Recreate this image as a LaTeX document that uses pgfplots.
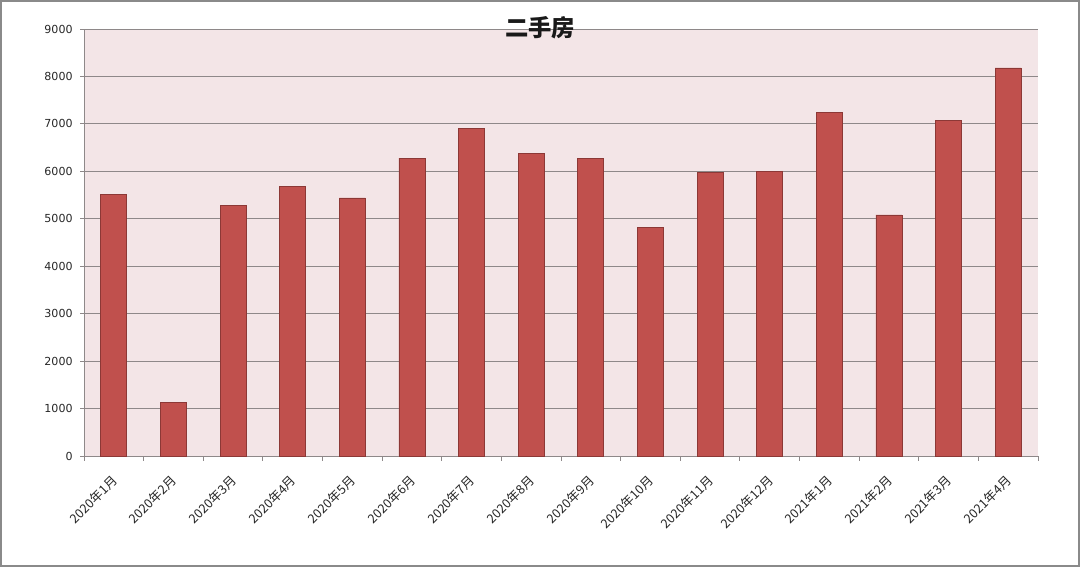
\documentclass[border=0pt]{standalone}
\usepackage{pgfplots}
\pgfplotsset{compat=1.18}
\usepackage{pgfplotstable}
\usepackage{fontspec}
\setmainfont{DejaVu Sans}
\newfontfamily\cjk{Noto Sans CJK SC}

\definecolor{barfill}{HTML}{C0504D}
\definecolor{baredge}{HTML}{8C3836}
\definecolor{plotbg}{HTML}{F3E5E7}
\definecolor{gridc}{HTML}{8E8889}
\definecolor{framec}{HTML}{8A8A8A}

% 二手房 monthly values
\pgfplotstableread{
idx value
0  5520
1  1120
2  5290
3  5690
4  5440
5  6280
6  6910
7  6370
8  6280
9  4810
10 5970
11 5990
12 7250
13 5080
14 7080
15 8180
}\datatable

\begin{document}
\begin{tikzpicture}
% 1px = 0.75pt
\useasboundingbox (0,0) rectangle (810pt,425.25pt);
\draw[framec, line width=0.9pt] (0.75pt,0.75pt) rectangle (809.25pt,424.5pt);
\begin{axis}[
    at={(63pt,83.25pt)}, anchor=south west,
    width=715.5pt, height=320.25pt, scale only axis,
    xmin=-0.5, xmax=15.5,
    ymin=0, ymax=9000,
    ytick={0,1000,...,9000},
    xtick={0,...,15},
    xticklabels={2020年1月,2020年2月,2020年3月,2020年4月,2020年5月,2020年6月,2020年7月,2020年8月,2020年9月,2020年10月,2020年11月,2020年12月,2021年1月,2021年2月,2021年3月,2021年4月},
    minor xtick={-0.5,0.5,...,15.5},
    major x tick style={draw=none},
    minor tick length=3.5pt,
    major tick length=3pt,
    tick align=outside,
    tick style={gridc, line width=0.7pt},
    axis x line*=bottom,
    axis y line*=left,
    axis line style={gridc, line width=0.75pt, -},
    ymajorgrids,
    grid style={gridc, line width=0.75pt},
    axis background/.style={fill=plotbg},
    yticklabel style={font=\fontsize{8.3}{9}\selectfont, text=black!85, xshift=-2pt},
    xticklabel style={font=\cjk\fontsize{9.5}{10}\selectfont, text=black!85, rotate=45, anchor=north east, inner sep=1pt, xshift=-8pt, yshift=-4.5pt},
    /pgf/number format/assume math mode=true,
    /pgf/number format/1000 sep={},
    scaled y ticks=false,
    ybar, bar width=19.5pt,
    clip=false,
]
\addplot[fill=barfill, draw=baredge, line width=0.6pt] table[x=idx, y=value] {\datatable};
\end{axis}
\node[font=\cjk\bfseries\fontsize{17.5}{19}\selectfont, text=black!90] at (405pt,404.5pt) {二手房};
\end{tikzpicture}
\end{document}
